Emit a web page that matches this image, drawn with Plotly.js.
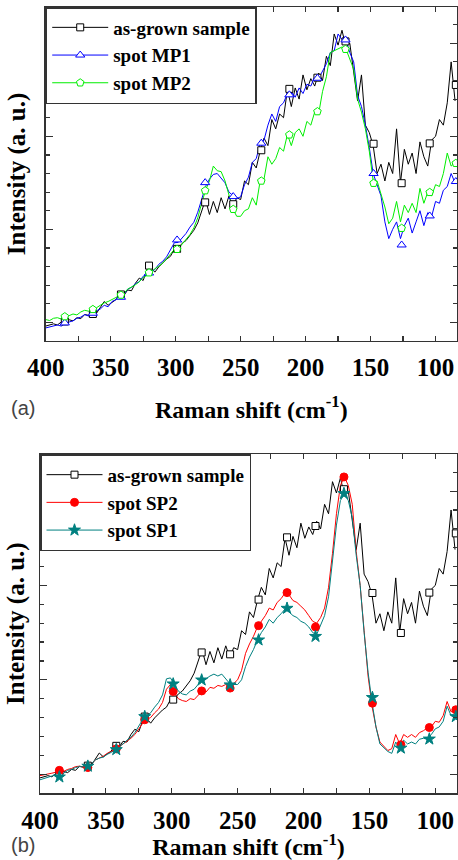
<!DOCTYPE html>
<html>
<head>
<meta charset="utf-8">
<script src="https://cdn.plot.ly/plotly-3.0.1.min.js"></script>
<style>html,body{margin:0;padding:0;background:#fff;}#chart{width:458px;height:860px;}</style>
</head>
<body>
<div id="chart"></div>
<script>
// Raman shift grid (cm^-1)
var ramanShift = [400,397,394,391,388,385,382,379,376,373,370,367,364,361,358,355,352,349,346,343,
  340,337,334,331,328,325,322,319,316,313,310,307,304,301,298,295,292,289,286,283,
  280,277,274,271,268,265,262,259,256,253,250,247,244,241,238,235,232,229,226,223,
  220,217,214,211,208,205,202,199,196,193,190,187,184,181,178,175,172,169,166,163,
  160,157,154,151,148,145,142,139,136,133,130,127,124,121,118,115,112,109,106,103,
  100,97,94,91,88,85];

// as-grown sample (shown in both panels)
var asGrown = [0.80,0.85,0.92,0.86,1.02,1.05,1.14,1.08,1.25,1.20,
  1.42,1.38,1.58,1.48,1.78,2.12,1.92,2.08,2.22,2.58,
  2.42,2.74,2.70,3.10,3.38,3.25,3.85,3.95,3.70,3.98,
  4.20,4.40,4.55,4.95,4.98,5.25,5.40,5.65,5.95,6.35,
  7.00,7.60,6.80,7.50,6.90,7.70,7.10,7.80,7.20,7.70,
  7.60,8.60,8.40,9.60,9.30,10.20,10.90,10.50,11.90,11.40,
  12.20,12.00,13.50,12.60,13.60,13.00,14.30,13.50,14.10,13.70,
  14.40,14.00,15.30,14.80,16.50,15.90,16.70,15.80,16.00,14.40,
  12.90,14.30,11.60,11.20,10.50,9.00,9.50,8.60,9.60,9.00,
  11.40,8.50,10.30,9.50,10.10,9.00,10.70,9.90,9.40,10.80,
  11.00,11.90,11.60,12.80,15.00,12.90];

// spot MP1
var spotMP1 = [0.70,0.74,0.80,0.86,0.80,0.95,1.02,1.08,1.22,1.28,
  1.42,1.34,1.46,1.62,1.72,1.92,1.84,2.12,2.22,2.42,
  2.48,2.78,2.88,3.08,3.18,3.48,3.58,3.72,3.84,4.12,
  4.28,4.52,4.88,5.28,5.30,5.52,5.78,6.12,6.38,6.92,
  7.60,8.30,8.70,8.95,9.00,8.75,8.50,8.00,7.80,7.65,
  7.75,8.40,8.80,9.60,9.80,10.60,10.80,11.60,12.20,11.80,
  12.60,12.80,13.30,13.40,13.10,13.60,13.30,13.80,13.70,14.20,
  14.10,14.50,14.90,15.50,15.60,16.50,16.20,16.20,15.50,15.00,
  13.20,12.60,11.60,10.40,9.00,8.40,7.80,6.40,5.50,6.00,
  6.40,5.50,6.20,6.60,5.80,6.40,7.00,6.20,6.90,6.70,
  7.50,7.40,8.10,8.30,9.00,8.50];

// spot MP2
var spotMP2 = [1.15,1.10,1.22,1.25,1.18,1.30,1.36,1.45,1.40,1.56,
  1.65,1.60,1.72,1.78,1.92,2.05,2.12,2.22,2.32,2.45,
  2.55,2.78,2.88,3.02,3.18,3.42,3.52,3.72,3.88,4.02,
  4.18,4.42,4.68,4.92,4.95,5.22,5.48,5.72,6.08,6.62,
  7.40,8.10,8.60,9.40,9.15,9.10,8.60,7.80,7.10,6.70,
  6.70,7.00,7.10,7.70,7.30,8.60,8.70,9.90,9.50,9.80,
  10.40,10.20,11.10,10.50,11.20,11.40,11.00,11.80,11.60,12.30,
  12.20,13.40,14.20,15.50,15.60,15.70,15.80,15.70,15.20,14.60,
  13.00,12.30,11.40,10.20,8.60,8.60,7.90,7.20,6.30,6.60,
  7.50,6.40,7.30,6.90,7.40,6.90,8.20,7.40,8.00,7.80,
  8.40,8.30,9.00,10.10,9.40,9.60];

// spot SP2
var spotSP2 = [0.92,0.95,1.00,1.05,1.10,1.18,1.15,1.25,1.30,1.40,
  1.42,1.35,1.40,1.55,1.75,1.85,1.95,2.10,2.20,2.30,
  2.45,2.60,2.75,2.90,3.10,3.40,3.70,3.90,4.00,4.25,
  4.45,4.80,5.50,5.75,5.30,5.00,4.90,4.85,5.00,4.95,
  5.20,5.40,5.35,5.60,5.55,5.70,5.65,5.75,5.60,5.80,
  6.00,6.50,7.40,7.90,8.30,8.80,9.10,9.40,9.80,9.70,
  10.10,10.30,10.60,10.50,10.20,10.10,9.90,9.70,9.40,9.10,
  9.00,9.30,9.80,10.90,12.70,14.80,16.30,16.75,16.30,15.30,
  12.80,11.00,8.60,6.20,4.60,3.50,2.70,2.45,2.25,2.35,
  3.10,2.60,3.10,2.95,3.10,2.95,3.20,3.30,3.45,3.50,
  3.80,3.75,4.10,4.85,4.30,4.40];

// spot SP1
var spotSP1 = [0.70,0.78,0.85,0.90,0.95,0.95,1.05,1.20,1.25,1.35,
  1.40,1.38,1.45,1.55,1.75,1.85,1.90,2.05,2.15,2.30,
  2.45,2.60,2.80,2.95,3.20,3.55,3.90,4.10,4.25,4.55,
  4.80,5.20,6.05,6.10,5.75,5.40,5.25,5.20,5.40,5.50,
  5.75,5.95,6.05,6.20,6.30,6.20,6.30,6.05,5.80,5.75,
  5.75,6.00,6.70,7.20,7.60,8.10,8.50,8.80,9.20,9.00,
  9.30,9.50,9.75,9.60,9.40,9.30,9.10,9.00,8.80,8.50,
  8.40,8.90,9.40,10.40,12.20,14.20,15.50,15.85,15.50,14.60,
  12.60,11.00,8.50,6.40,4.80,3.50,2.60,2.40,2.20,2.10,
  2.70,2.40,2.80,2.60,2.70,2.60,2.85,2.90,2.85,3.10,
  3.40,3.50,3.80,4.60,4.10,4.10];

// symbol positions
var markShift = [385.3,363.7,342.1,320.5,298.9,277.3,255.7,234.1,212.5,190.9,169.3,147.7,126.1,104.5,84.4];
var asGrownMark = [1.05,1.45,2.50,4.05,4.95,7.45,7.35,10.25,13.55,14.15,16.10,10.60,8.48,10.62,13.76];
var spotMP1Mark = [0.97,1.49,2.35,3.65,5.43,8.51,7.76,10.63,13.23,14.12,16.18,9.00,5.16,6.72,8.57];
var spotMP2Mark = [1.31,1.70,2.47,3.67,4.93,8.08,7.08,8.60,11.08,12.33,15.68,8.48,6.06,7.99,9.55];
var spotSP2Mark = [1.20,1.35,2.34,3.88,5.38,5.41,5.56,8.87,10.62,8.80,16.75,4.76,2.56,3.47,4.41];
var spotSP1Mark = [0.85,1.42,2.30,4.05,5.78,5.99,5.73,8.11,9.79,8.30,15.87,5.06,2.38,2.86,4.05];

var namesA = ['as-grown sample','spot MP1','spot MP2'];
var namesB = ['as-grown sample','spot SP2','spot SP1'];

var serif = 'Liberation Serif, Times New Roman, serif';
var seriesA = [
  {y: asGrown, m: asGrownMark, color: '#000000', sym: 'square', fill: '#ffffff', size: 7},
  {y: spotMP1, m: spotMP1Mark, color: '#0000ff', sym: 'triangle-up', fill: '#ffffff', size: 8},
  {y: spotMP2, m: spotMP2Mark, color: '#00ee00', sym: 'pentagon', fill: '#ffffff', size: 8}
];
var seriesB = [
  {y: asGrown, m: asGrownMark, color: '#000000', sym: 'square', fill: '#ffffff', size: 7},
  {y: spotSP2, m: spotSP2Mark, color: '#ff0000', sym: 'circle', fill: '#ff0000', size: 8},
  {y: spotSP1, m: spotSP1Mark, color: '#008080', sym: 'star', fill: '#008080', size: 9}
];

var traces = [];
function addPanel(series, names, xa, ya, leg) {
  series.forEach(function (s) {
    traces.push({x: ramanShift, y: s.y, xaxis: xa, yaxis: ya, mode: 'lines', type: 'scatter',
      line: {color: s.color, width: 1}, showlegend: false, hoverinfo: 'skip'});
  });
  series.forEach(function (s) {
    traces.push({x: markShift, y: s.m, xaxis: xa, yaxis: ya, mode: 'markers', type: 'scatter',
      marker: {symbol: s.sym, size: s.size, color: s.fill, line: {color: s.color, width: 1}},
      showlegend: false, cliponaxis: true});
  });
  series.forEach(function (s, i) {
    traces.push({x: [null], y: [null], xaxis: xa, yaxis: ya, mode: 'lines+markers', type: 'scatter',
      name: names[i], legend: leg,
      line: {color: s.color, width: 1},
      marker: {symbol: s.sym, size: s.size, color: s.fill, line: {color: s.color, width: 1}}});
  });
}
addPanel(seriesA, namesA, 'x', 'y', 'legend');
addPanel(seriesB, namesB, 'x2', 'y2', 'legend2');

var tickFont = {family: serif, size: 25, weight: 'bold', color: '#000'};
var titleFont = {family: serif, size: 24, weight: 'bold', color: '#000'};
function xAxis(domain, anchor, standoff) {
  return {domain: domain, anchor: anchor, range: [400, 83.5], autorange: false,
    tick0: 0, dtick: 50, ticks: 'inside', ticklen: 5, tickwidth: 1.2, tickcolor: '#333',
    minor: {dtick: 25, ticks: 'inside', ticklen: 5, tickwidth: 1.2, tickcolor: '#333'},
    showline: true, linecolor: '#333', linewidth: 1.5, mirror: 'allticks',
    showgrid: false, zeroline: false, tickfont: tickFont, ticklabelstandoff: 4,
    title: {text: 'Raman shift (cm<sup>-1</sup>)', font: titleFont, standoff: standoff}, automargin: false};
}
function yAxis(domain, anchor, standoff) {
  return {domain: domain, anchor: anchor, range: [0, 17.95], autorange: false,
    tick0: 1, dtick: 5, ticks: 'inside', ticklen: 7, tickwidth: 1.2, tickcolor: '#333',
    minor: {tick0: 1, dtick: 1, ticks: 'inside', ticklen: 4, tickwidth: 1.2, tickcolor: '#333'},
    showline: true, linecolor: '#333', linewidth: 1.5, mirror: 'allticks',
    showgrid: false, zeroline: false, showticklabels: false,
    title: {text: 'Intensity (a. u.)', font: {family: serif, size: 25, weight: 'bold', color: '#000'}, standoff: standoff},
    automargin: false};
}
var legendStyle = function (x, y) {
  return {x: x, y: y, xanchor: 'left', yanchor: 'top', xref: 'paper', yref: 'paper',
    bgcolor: '#fff', bordercolor: '#333', borderwidth: 1.5,
    font: {family: serif, size: 19, weight: 'bold', color: '#000'},
    itemwidth: 56, tracegroupgap: 0};
};

var layout = {
  width: 458, height: 860,
  margin: {l: 40, r: 1, t: 7, b: 67},
  paper_bgcolor: '#fff', plot_bgcolor: '#fff',
  showlegend: true,
  xaxis: xAxis([0.0137, 1], 'y', 20),
  yaxis: yAxis([0.5751, 1], 'x', 11),
  xaxis2: xAxis([0, 1], 'y2', 4),
  yaxis2: yAxis([0, 0.4309], 'x2', 6),
  legend: legendStyle(0.0137, 1),
  legend2: legendStyle(0, 0.4309),
  annotations: [
    {text: '(a)', xref: 'paper', yref: 'paper', x: -0.0396, y: 0.4898, xanchor: 'center', yanchor: 'middle',
      showarrow: false, font: {family: 'Liberation Sans, Arial, sans-serif', size: 20, color: '#444'}},
    {text: '(b)', xref: 'paper', yref: 'paper', x: -0.0396, y: -0.0662, xanchor: 'center', yanchor: 'middle',
      showarrow: false, font: {family: 'Liberation Sans, Arial, sans-serif', size: 20, color: '#444'}}
  ]
};

Plotly.newPlot('chart', traces, layout, {staticPlot: true, displayModeBar: false});
</script>
</body>
</html>
